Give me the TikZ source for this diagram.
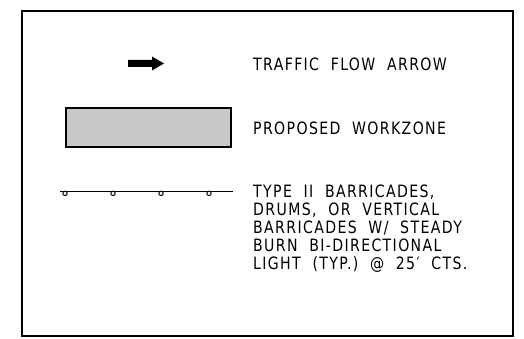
\documentclass[tikz,border=0pt]{standalone}
\usepackage{fontspec}
\newfontfamily\legendfont[FakeStretch=0.83,LetterSpace=8,WordSpace=2]{DejaVu Sans}
\usetikzlibrary{positioning}

\definecolor{lgZoneFill}{HTML}{C8C8C8}
\definecolor{lgInk}{HTML}{000000}

\tikzset{
  legendtext/.style={anchor=base west,inner sep=0pt,align=left,text=lgInk,
    font={\legendfont\fontsize{17}{18}\selectfont}},
  zonebox/.style={draw=lgInk,fill=lgZoneFill,line width=1.3pt,minimum width=165pt,
    minimum height=39pt,inner sep=0pt},
  drum/.style={draw=lgInk,fill=white,line width=1pt}
}

\begin{document}
\begin{tikzpicture}[x=1pt,y=-1pt]
  \useasboundingbox (0,0) rectangle (524,339);
  % ---- frame ----
  \draw[lgInk,line width=1.5pt] (22,11) rectangle (513,336);

  % ---- traffic flow arrow ----
  \fill[lgInk] (128,60) -- (152,60) -- (152,56.5) -- (164,63.5) -- (152,70.5)
    -- (152,67) -- (128,67) -- cycle;
  \node[legendtext] (flowlab) at (253,71) {TRAFFIC FLOW ARROW};

  % ---- workzone ----
  \node[zonebox] (zone) at (148.5,127.5) {};
  \node[legendtext] (zonelab) at (253,135) {PROPOSED WORKZONE};

  % ---- barricades ----
  \coordinate (barA) at (60,191.3);
  \coordinate (barB) at (233,191.3);
  \draw[lgInk,line width=1pt] (barA) -- (barB);
  \foreach \x in {65,113,161,209}{%
    \draw[drum] (\x,193.4) circle (2.2);
  }
  % base of a multi-line node is its last line
  \node[legendtext] (barlab) at (253,269)
    {TYPE II BARRICADES,\\DRUMS, OR VERTICAL\\BARRICADES W/ STEADY\\BURN BI-DIRECTIONAL\\LIGHT (TYP.) @ 25′ CTS.};
\end{tikzpicture}
\end{document}
